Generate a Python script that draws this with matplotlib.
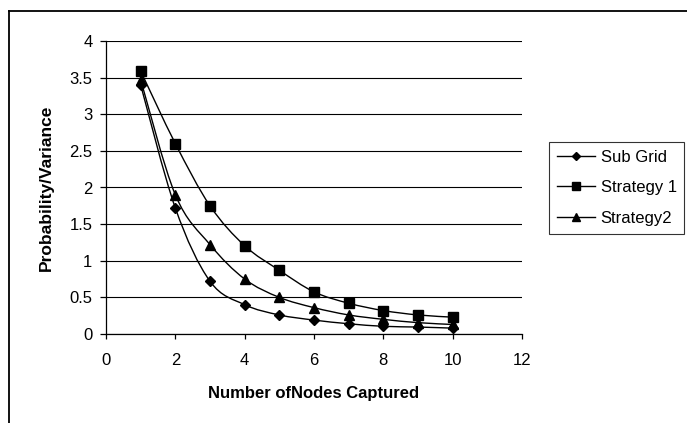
import matplotlib
matplotlib.use("Agg")
import matplotlib.pyplot as plt
from matplotlib.path import Path
from matplotlib.patches import PathPatch
from matplotlib.lines import Line2D
import numpy as np

plt.rcParams['font.family'] = ['Liberation Sans', 'DejaVu Sans']

x_nodes = [1, 2, 3, 4, 5, 6, 7, 8, 9, 10]
sub_grid = [3.40, 1.72, 0.72, 0.40, 0.26, 0.19, 0.14, 0.105, 0.095, 0.08]
strategy1 = [3.59, 2.60, 1.75, 1.205, 0.87, 0.575, 0.42, 0.32, 0.26, 0.23]
strategy2 = [3.47, 1.90, 1.22, 0.75, 0.50, 0.36, 0.26, 0.20, 0.155, 0.13]
series_names = ["Sub Grid", "Strategy 1", "Strategy2"]
series_markers = ["D", "s", "^"]
series_msize = [5.5, 7, 7]
x_ticks = [0, 2, 4, 6, 8, 10, 12]
y_ticks = [0, 0.5, 1, 1.5, 2, 2.5, 3, 3.5, 4]
xlabel = "Number ofNodes Captured"
ylabel = "Probability/Variance"

W, H = 687, 423
fig = plt.figure(figsize=(W/100, H/100), dpi=100)
ax = fig.add_axes([106/W, 1-334/H, (522-106)/W, (334-41)/H])


def smooth_path(xs, ys):
    pts = np.column_stack([xs, ys]).astype(float)
    n = len(pts)
    verts = [pts[0]]
    codes = [Path.MOVETO]
    for i in range(n-1):
        p0 = pts[i-1] if i > 0 else pts[i]
        p1 = pts[i]
        p2 = pts[i+1]
        p3 = pts[i+2] if i+2 < n else pts[i+1]
        c1 = p1 + (p2 - p0)/6.0
        c2 = p2 - (p3 - p1)/6.0
        verts += [c1, c2, p2]
        codes += [Path.CURVE4]*3
    return Path(verts, codes)


for ys, name, m, ms in zip([sub_grid, strategy1, strategy2], series_names, series_markers, series_msize):
    ax.add_patch(PathPatch(smooth_path(x_nodes, ys), fill=False, edgecolor='black', lw=1.0, zorder=3))
    ax.plot(x_nodes, ys, linestyle='none', marker=m, markersize=ms, color='black', zorder=4)

ax.set_xlim(0, 12)
ax.set_ylim(0, 4)
ax.set_xticks(x_ticks)
ax.set_yticks(y_ticks)
ax.set_yticklabels([("%g" % v) for v in y_ticks])
ax.yaxis.grid(True, color='black', lw=0.8)
ax.set_axisbelow(True)
for s in ['top', 'right']:
    ax.spines[s].set_visible(False)
for s in ['left', 'bottom']:
    ax.spines[s].set_linewidth(0.9)
ax.tick_params(axis='both', direction='out', width=0.9, labelsize=12, colors='black')
ax.tick_params(axis='x', length=3.6, pad=10)
ax.tick_params(axis='y', length=4.3, pad=5.5)
ax.set_xlabel(xlabel, fontsize=12, fontweight='bold', labelpad=13)
ax.set_ylabel(ylabel, fontsize=12.5, fontweight='bold', labelpad=11)

handles = [Line2D([0], [0], color='black', lw=1.0, marker=m, markersize=ms*0.75)
           for m, ms in zip(series_markers, series_msize)]
leg = fig.legend(handles, series_names, loc='upper left',
                 bbox_to_anchor=(549/W, 1-142/H), fontsize=12, frameon=True,
                 fancybox=False, edgecolor='black', handlelength=2.3, handletextpad=0.35,
                 borderpad=0.45, labelspacing=0.95, borderaxespad=0)
leg.get_frame().set_linewidth(0.8)

# outer border (top and left only visible)
fig.add_artist(Line2D([9/W, 1], [1-11/H, 1-11/H], color='black', lw=1.3, transform=fig.transFigure))
fig.add_artist(Line2D([9/W, 9/W], [0, 1-11/H], color='black', lw=1.3, transform=fig.transFigure))

fig.savefig("out.png", dpi=100)
